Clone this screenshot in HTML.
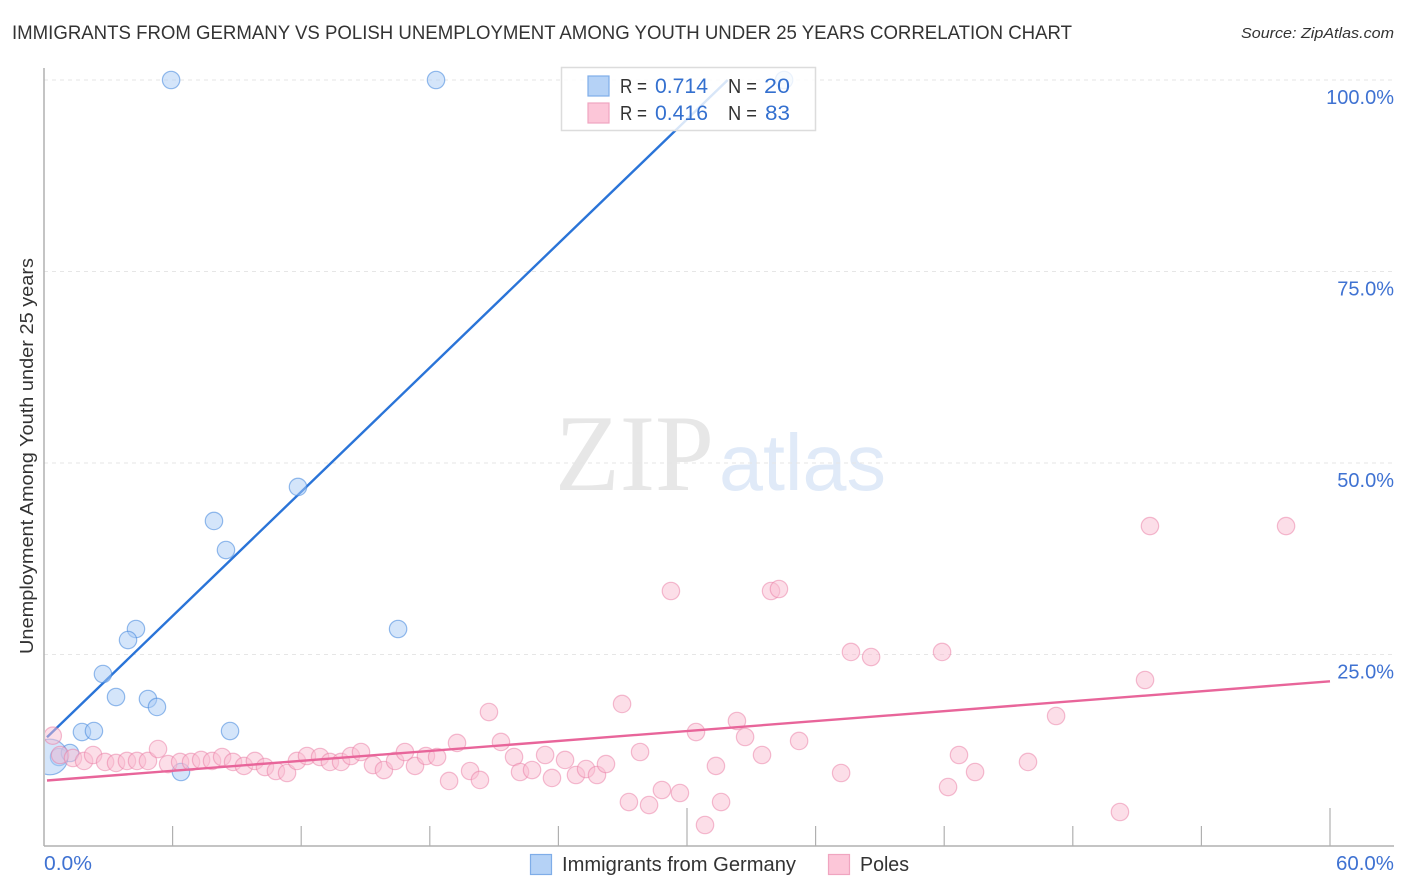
<!DOCTYPE html>
<html lang="en">
<head>
<meta charset="utf-8">
<title>Immigrants from Germany vs Polish Unemployment Among Youth Under 25 Years Correlation Chart</title>
<style>
html,body{margin:0;padding:0;background:#fff;}
svg{display:block;font-family:"Liberation Sans",sans-serif;}
</style>
</head>
<body>
<svg id="chart" xmlns="http://www.w3.org/2000/svg" width="1406" height="892" viewBox="0 0 1406 892">
  <defs>
    <clipPath id="plot-clip"><rect x="45" y="60" width="1349" height="786"/></clipPath>
  </defs>
  <rect width="1406" height="892" fill="#fff"/>
  <text x="12" y="39" font-size="19" fill="#333" textLength="1060" lengthAdjust="spacingAndGlyphs">IMMIGRANTS FROM GERMANY VS POLISH UNEMPLOYMENT AMONG YOUTH UNDER 25 YEARS CORRELATION CHART</text>
  <text x="1241" y="38" font-size="15" font-style="italic" fill="#333" textLength="153" lengthAdjust="spacingAndGlyphs">Source: ZipAtlas.com</text>
  <g>
    <text x="555" y="490" font-family="'Liberation Serif',serif" font-size="109" fill="#e7e7e7" textLength="159" lengthAdjust="spacingAndGlyphs">ZIP</text>
    <text x="719" y="490" font-size="80" fill="#e0eaf8" textLength="167" lengthAdjust="spacingAndGlyphs">atlas</text>
  </g>
  <g id="grid"></g>
  <g id="axes"></g>
  <g id="trend-blue-layer"></g>
  <g id="points" clip-path="url(#plot-clip)"></g>
  <g id="trend-layer"></g>
  <text transform="translate(33,456) rotate(-90)" font-size="18.5" fill="#333" text-anchor="middle" textLength="396" lengthAdjust="spacingAndGlyphs">Unemployment Among Youth under 25 years</text>
  <g>
    <rect x="561.5" y="67.5" width="254" height="63" fill="#fff" fill-opacity="0.82" stroke="#dcdcdc" stroke-width="1.5"/>
    <rect x="588" y="76" width="21" height="20" fill="#b5d2f6" stroke="#7fade8" stroke-width="1.2"/>
    <rect x="588" y="103" width="21" height="20" fill="#fcc6d8" stroke="#f0a5c0" stroke-width="1.2"/>
    <text x="620" y="93" font-size="20" fill="#333" textLength="27" lengthAdjust="spacingAndGlyphs">R =</text>
    <text x="655" y="93" font-size="21" fill="#3470cf" textLength="53" lengthAdjust="spacingAndGlyphs">0.714</text>
    <text x="728" y="93" font-size="20" fill="#333" textLength="29" lengthAdjust="spacingAndGlyphs">N =</text>
    <text x="764" y="93" font-size="21" fill="#3470cf" textLength="26" lengthAdjust="spacingAndGlyphs">20</text>
    <text x="620" y="120" font-size="20" fill="#333" textLength="27" lengthAdjust="spacingAndGlyphs">R =</text>
    <text x="655" y="120" font-size="21" fill="#3470cf" textLength="53" lengthAdjust="spacingAndGlyphs">0.416</text>
    <text x="728" y="120" font-size="20" fill="#333" textLength="29" lengthAdjust="spacingAndGlyphs">N =</text>
    <text x="765" y="120" font-size="21" fill="#3470cf" textLength="25" lengthAdjust="spacingAndGlyphs">83</text>
  </g>
  <g>
    <rect x="530.5" y="854.5" width="21" height="20" fill="#b5d2f6" stroke="#7fade8" stroke-width="1.2"/>
    <text x="562" y="871" font-size="20" fill="#333" textLength="234" lengthAdjust="spacingAndGlyphs">Immigrants from Germany</text>
    <rect x="828.5" y="854.5" width="21" height="20" fill="#fcc6d8" stroke="#f0a5c0" stroke-width="1.2"/>
    <text x="860" y="871" font-size="20" fill="#333" textLength="49" lengthAdjust="spacingAndGlyphs">Poles</text>
  </g>
</svg>
<script>
const germanyX = [5.93,18.29,34.53,11.85,7.93,8.49,4.29,3.92,16.52,2.75,3.36,4.85,5.27,1.77,2.33,8.68,6.39,0.70,1.21,0.28];
const germanyY = [100,100,100,46.87,42.43,38.64,28.33,26.89,28.33,22.45,19.45,19.19,18.15,14.88,15.01,15.01,9.66,11.62,12.14,11.62];
const germanySizes = [1,1,1,1,1,1,1,1,1,1,1,1,1,1,1,1,1,1,1,2.05];
const polesX = [0.41,0.75,1.35,1.87,2.29,2.85,3.36,3.87,4.34,4.85,5.32,5.79,6.35,6.86,7.33,7.84,8.31,8.82,9.33,9.84,10.31,10.82,11.34,11.80,12.27,12.88,13.34,13.86,14.32,14.79,15.35,15.86,16.38,16.84,17.31,17.82,18.34,18.90,19.27,19.88,20.34,20.76,21.32,21.93,22.21,22.77,23.38,23.70,24.31,24.82,25.29,25.80,26.22,26.97,27.29,27.81,28.23,28.83,29.25,29.67,30.42,30.84,31.35,31.59,32.33,32.71,33.50,33.92,34.29,35.23,37.19,37.65,38.59,41.90,42.18,42.69,43.44,45.91,47.22,50.20,51.37,51.60,57.95];
const polesY = [14.40,11.88,11.49,11.10,11.88,10.97,10.84,11.10,11.10,11.10,12.66,10.70,10.97,10.97,11.23,11.10,11.62,10.97,10.45,11.10,10.31,9.79,9.53,11.10,11.75,11.62,10.97,10.97,11.75,12.27,10.57,9.92,11.10,12.27,10.45,11.75,11.62,8.49,13.45,9.79,8.62,17.49,13.58,11.62,9.66,9.92,11.88,8.88,11.23,9.27,10.05,9.27,10.70,18.54,5.74,12.27,5.35,7.31,33.29,6.92,14.88,2.74,10.45,5.74,16.32,14.23,11.88,33.29,33.55,13.71,9.53,25.33,24.67,25.33,7.70,11.88,9.66,10.97,16.97,4.44,21.67,41.77,41.77];
const germanyTrendX = [0.14,31.9];
const germanyTrendY = [14.2,100];
const polesTrendX = [0.14,60];
const polesTrendY = [8.55,21.5];
const yTickValues = [25,50,75,100];
const yTickLabels = ["25.0%","50.0%","75.0%","100.0%"];
const xTickValues = [6,12,18,24,30,36,42,48,54,60];
const xMajorTicks = [30,60];
const xEndValues = [0,60];
const xEndLabels = ["0.0%","60.0%"];

const NS = "http://www.w3.org/2000/svg";
const xScale = v => 44 + v * (1330 - 44) / 60;
const yScale = v => 846 - v * (846 - 80) / 100;
const RADIUS = 8.7;

function make(tag, attrs, parent) {
  const el = document.createElementNS(NS, tag);
  for (const k in attrs) el.setAttribute(k, attrs[k]);
  parent.appendChild(el);
  return el;
}

const grid = document.getElementById("grid");
const axes = document.getElementById("axes");
const points = document.getElementById("points");
const trendLayer = document.getElementById("trend-layer");

yTickValues.forEach((v, i) => {
  const line = make("line", {x1: 44, x2: 1394, y1: yScale(v), y2: yScale(v), stroke: "#e6e6e6", "stroke-width": 1, "stroke-dasharray": "4 4"}, grid);
  
  
  const label = make("text", {x: 1394, y: yScale(v) + 24, "font-size": 20, fill: "#3f72d2", "text-anchor": "end"}, axes);
  label.textContent = yTickLabels[i];
  
  
});

const yAxis = make("line", {x1: 44, x2: 44, y1: 68, y2: 846, stroke: "#b0b0b0", "stroke-width": 1.5}, axes);


const xAxis = make("line", {x1: 44, x2: 1394, y1: 846, y2: 846, stroke: "#b0b0b0", "stroke-width": 1.5}, axes);



xTickValues.forEach(v => {
  const top = xMajorTicks.includes(v) ? 808 : 826;
  const tick = make("line", {x1: xScale(v), x2: xScale(v), y1: top, y2: 846, stroke: "#b0b0b0", "stroke-width": 1.2}, axes);
  
  
});

xEndValues.forEach((v, i) => {
  const label = make("text", {x: i === 0 ? 44 : 1336, y: 870, "font-size": 20, fill: "#3f72d2", textLength: i === 0 ? 48 : 58, lengthAdjust: "spacingAndGlyphs"}, axes);
  label.textContent = xEndLabels[i];
  
  
});

germanyX.forEach((v, i) => {
  const c = make("circle", {cx: xScale(v), cy: yScale(germanyY[i]), r: RADIUS * germanySizes[i], fill: "#a9ccf5", "fill-opacity": 0.5, stroke: "#3f85dc", "stroke-opacity": 0.55, "stroke-width": 1.2}, points);
  
  
});

polesX.forEach((v, i) => {
  const c = make("circle", {cx: xScale(v), cy: yScale(polesY[i]), r: RADIUS, fill: "#f9bdd2", "fill-opacity": 0.5, stroke: "#ea7ba3", "stroke-opacity": 0.5, "stroke-width": 1.2}, points);
  
  
});

const blueTrend = make("line", {x1: xScale(germanyTrendX[0]), y1: yScale(germanyTrendY[0]), x2: xScale(germanyTrendX[1]), y2: yScale(germanyTrendY[1]), stroke: "#2a74d8", "stroke-width": 2.4}, document.getElementById("trend-blue-layer"));


const pinkTrend = make("line", {x1: xScale(polesTrendX[0]), y1: yScale(polesTrendY[0]), x2: xScale(polesTrendX[1]), y2: yScale(polesTrendY[1]), stroke: "#e8659a", "stroke-width": 2.4}, trendLayer);


</script>
</body>
</html>
